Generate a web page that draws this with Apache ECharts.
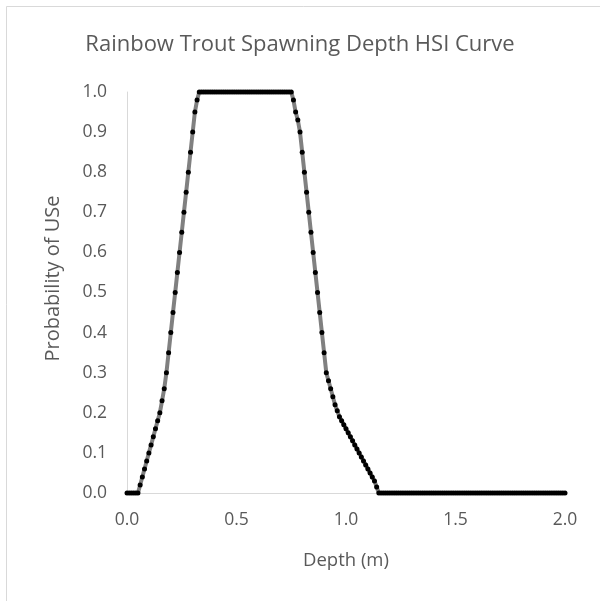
<!DOCTYPE html>
<html>
<head>
<meta charset="utf-8">
<script src="https://cdn.jsdelivr.net/npm/echarts@6/dist/echarts.min.js"></script>
<style>
html,body{margin:0;padding:0;background:#fff;}
#chart{width:600px;height:601px;}
</style>
</head>
<body>
<div id="chart"></div>
<script>
var chartTitle = 'Rainbow Trout Spawning Depth HSI Curve';
var xAxisName = 'Depth (m)';
var yAxisName = 'Probability of USe';

var depth = [
  0.00,0.01,0.02,0.03,0.04,0.05,0.06,0.07,0.08,0.09,
  0.10,0.11,0.12,0.13,0.14,0.15,0.16,0.17,0.18,0.19,
  0.20,0.21,0.22,0.23,0.24,0.25,0.26,0.27,0.28,0.29,
  0.30,0.31,0.32,0.33,0.34,0.35,0.36,0.37,0.38,0.39,
  0.40,0.41,0.42,0.43,0.44,0.45,0.46,0.47,0.48,0.49,
  0.50,0.51,0.52,0.53,0.54,0.55,0.56,0.57,0.58,0.59,
  0.60,0.61,0.62,0.63,0.64,0.65,0.66,0.67,0.68,0.69,
  0.70,0.71,0.72,0.73,0.74,0.75,0.76,0.77,0.78,0.79,
  0.80,0.81,0.82,0.83,0.84,0.85,0.86,0.87,0.88,0.89,
  0.90,0.91,0.92,0.93,0.94,0.95,0.96,0.97,0.98,0.99,
  1.00,1.01,1.02,1.03,1.04,1.05,1.06,1.07,1.08,1.09,
  1.10,1.11,1.12,1.13,1.14,1.15,1.16,1.17,1.18,1.19,
  1.20,1.21,1.22,1.23,1.24,1.25,1.26,1.27,1.28,1.29,
  1.30,1.31,1.32,1.33,1.34,1.35,1.36,1.37,1.38,1.39,
  1.40,1.41,1.42,1.43,1.44,1.45,1.46,1.47,1.48,1.49,
  1.50,1.51,1.52,1.53,1.54,1.55,1.56,1.57,1.58,1.59,
  1.60,1.61,1.62,1.63,1.64,1.65,1.66,1.67,1.68,1.69,
  1.70,1.71,1.72,1.73,1.74,1.75,1.76,1.77,1.78,1.79,
  1.80,1.81,1.82,1.83,1.84,1.85,1.86,1.87,1.88,1.89,
  1.90,1.91,1.92,1.93,1.94,1.95,1.96,1.97,1.98,1.99,
  2.00
];

var probability = [
  0,0,0,0,0,0,0.02,0.04,0.06,0.08,
  0.10,0.12,0.14,0.16,0.18,0.20,0.23,0.26,0.30,0.35,
  0.40,0.45,0.50,0.55,0.60,0.65,0.70,0.75,0.80,0.85,
  0.90,0.95,0.98,1,1,1,1,1,1,1,
  1,1,1,1,1,1,1,1,1,1,
  1,1,1,1,1,1,1,1,1,1,
  1,1,1,1,1,1,1,1,1,1,
  1,1,1,1,1,1,0.98,0.95,0.93,0.90,
  0.85,0.80,0.75,0.70,0.65,0.60,0.55,0.50,0.45,0.40,
  0.35,0.30,0.28,0.26,0.24,0.22,0.205,0.19,0.18,0.17,
  0.16,0.15,0.14,0.13,0.12,0.11,0.10,0.09,0.08,0.07,
  0.06,0.05,0.04,0.03,0.015,0,0,0,0,0,
  0,0,0,0,0,0,0,0,0,0,
  0,0,0,0,0,0,0,0,0,0,
  0,0,0,0,0,0,0,0,0,0,
  0,0,0,0,0,0,0,0,0,0,
  0,0,0,0,0,0,0,0,0,0,
  0,0,0,0,0,0,0,0,0,0,
  0,0,0,0,0,0,0,0,0,0,
  0,0,0,0,0,0,0,0,0,0,
  0
];

var seriesData = depth.map(function (d, i) { return [d, probability[i]]; });

var FONT = 'Open Sans';
var TXT = '#595959';
var AXIS = '#d9d9d9';

var chart = echarts.init(document.getElementById('chart'), null, {renderer: 'canvas'});
chart.setOption({
  animation: false,
  backgroundColor: '#ffffff',
  title: {
    text: chartTitle,
    left: 'center',
    top: 29,
    textStyle: {fontFamily: FONT, fontSize: 22, fontWeight: 'normal', color: TXT}
  },
  graphic: [{
    type: 'rect',
    shape: {x: 6.5, y: 6.5, width: 620, height: 620},
    style: {fill: 'none', stroke: AXIS, lineWidth: 1},
    silent: true
  }],
  grid: {left: 127, right: 35, top: 92, bottom: 108, containLabel: false},
  xAxis: {
    type: 'value',
    min: 0, max: 2, interval: 0.5,
    name: xAxisName,
    nameLocation: 'middle',
    nameGap: 58,
    nameTextStyle: {fontFamily: FONT, fontSize: 18.5, color: TXT},
    axisLine: {show: true, onZero: false, lineStyle: {color: AXIS, width: 1}},
    axisTick: {show: false},
    splitLine: {show: false},
    axisLabel: {
      fontFamily: FONT, fontSize: 17.5, color: TXT, margin: 18,
      formatter: function (v) { return v.toFixed(1); }
    }
  },
  yAxis: {
    type: 'value',
    min: 0, max: 1, interval: 0.1,
    name: yAxisName,
    nameLocation: 'middle',
    nameGap: 64,
    nameRotate: 90,
    nameTextStyle: {fontFamily: FONT, fontSize: 20, color: TXT, padding: [0, 0, 0, 28]},
    axisLine: {show: true, lineStyle: {color: AXIS, width: 1}},
    axisTick: {show: false},
    splitLine: {show: false},
    axisLabel: {
      fontFamily: FONT, fontSize: 17.5, color: TXT, margin: 20,
      formatter: function (v) { return v.toFixed(1); }
    }
  },
  series: [{
    type: 'line',
    data: seriesData,
    showAllSymbol: true,
    symbol: 'circle',
    symbolSize: 5,
    itemStyle: {color: '#000000', borderWidth: 0},
    lineStyle: {color: '#808080', width: 4},
    emphasis: {disabled: true}
  }]
});
</script>
</body>
</html>
